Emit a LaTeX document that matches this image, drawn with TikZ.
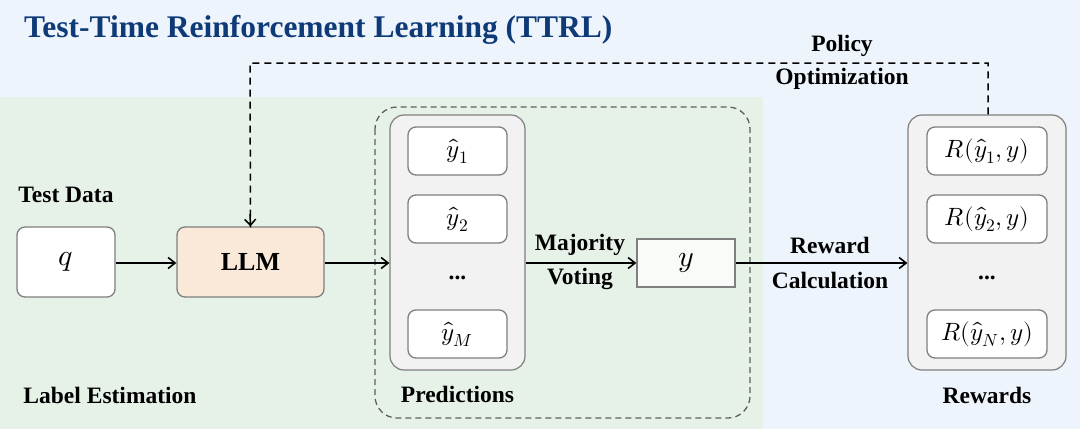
\documentclass[tikz,border=0pt]{standalone}
\usepackage{fontspec}
\usepackage{unicode-math}
\setmainfont{Liberation Serif}
\setmathfont{Latin Modern Math}
\usetikzlibrary{arrows.meta,positioning}
\definecolor{bgblue}{HTML}{EEF4FB}
\definecolor{bggreen}{HTML}{E6F2E8}
\definecolor{titleblue}{HTML}{0F3A78}
\definecolor{llmfill}{HTML}{FAE9D8}
\definecolor{greyfill}{HTML}{F2F2F2}
\definecolor{boxborder}{HTML}{7F7F7F}
\tikzset{
  lbl/.style={font=\fontsize{23.5}{26}\selectfont\bfseries, inner sep=0pt},
  whitebox/.style={draw=boxborder, line width=1.3pt, fill=white, rounded corners=8pt, inner sep=0pt},
  groupbox/.style={draw=boxborder, line width=1.2pt, fill=greyfill, rounded corners=14pt, inner sep=0pt},
  mathtxt/.style={font=\fontsize{25}{28}\selectfont},
  bigmath/.style={font=\fontsize{30}{32}\selectfont},
  conn/.style={line width=1.6pt, -{Straight Barb[length=7pt,width=11pt,line width=1.6pt]}},
  fb/.style={line width=1.5pt, dash pattern=on 7pt off 5pt},
}
\begin{document}
\begin{tikzpicture}[x=1pt,y=-1pt]
\useasboundingbox (0,0) rectangle (1080,429);
\fill[bgblue] (0,0) rectangle (1080,429);
\fill[bggreen] (0,97) rectangle (763,429);
\node[anchor=west, font=\fontsize{31.5}{36}\selectfont\bfseries, text=titleblue, inner sep=0pt] (title) at (24,30) {Test-Time Reinforcement Learning (TTRL)};

% dashed label estimation group
\draw[draw=boxborder!75!black, line width=1.3pt, dash pattern=on 6pt off 4pt, rounded corners=22pt] (375,107) rectangle (750,418);

% predictions group
\node[groupbox, minimum width=135pt, minimum height=255pt] (pred) at (457.5,242.5) {};
\node[whitebox, minimum width=99pt, minimum height=48pt, mathtxt] (p1) at (457.5,151) {$\hat{y}_1$};
\node[whitebox, minimum width=99pt, minimum height=48pt, mathtxt] (p2) at (457.5,219) {$\hat{y}_2$};
\node[lbl] (pdots) at (457.5,278) {...};
\node[whitebox, minimum width=99pt, minimum height=48pt, mathtxt] (pM) at (457.5,334) {$\hat{y}_M$};
\node[lbl] (predlbl) at (457.5,394) {Predictions};

% q and LLM
\node[whitebox, minimum width=98pt, minimum height=70pt, bigmath] (q) at (66,262) {$q$};
\node[whitebox, fill=llmfill, minimum width=147pt, minimum height=70pt, font=\fontsize{26}{28}\selectfont\bfseries] (llm) at (250.5,262) {LLM};
\node[lbl] (testdata) at (66,195) {Test Data};
\node[lbl] (labest) at (110,395) {Label Estimation};

% majority answer
\node[draw=boxborder, line width=1.3pt, fill=white!70!bggreen, minimum width=98pt, minimum height=48pt, inner sep=0pt, bigmath] (y) at (686,263) {$y$};

% rewards group
\node[groupbox, minimum width=158pt, minimum height=255pt] (rew) at (987,242.5) {};
\node[whitebox, minimum width=120pt, minimum height=48pt, mathtxt] (r1) at (987,151) {$R(\hat{y}_1,y)$};
\node[whitebox, minimum width=120pt, minimum height=48pt, mathtxt] (r2) at (987,219) {$R(\hat{y}_2,y)$};
\node[lbl] (rdots) at (987,278) {...};
\node[whitebox, minimum width=120pt, minimum height=48pt, mathtxt] (rN) at (987,334) {$R(\hat{y}_N,y)$};
\node[lbl] (rewlbl) at (987,395) {Rewards};

% connectors
\draw[conn] (q.east |- 0,263) -- (llm.west |- 0,263);
\draw[conn] (llm.east |- 0,263) -- (pred.west |- 0,263);
\draw[conn] (pred.east |- 0,263) -- (y.west |- 0,263);
\draw[conn] (y.east |- 0,263) -- (rew.west |- 0,263);
\node[lbl] (maj) at (580,245) {Majority};
\node[lbl] (vot) at (580,279) {Voting};
\node[lbl] (rw) at (830,245) {Reward};
\node[lbl] (calc) at (830,280) {Calculation};

% feedback
\coordinate (fbR) at (988,63);
\coordinate (fbL) at (250,63);
\draw[fb] (rew.north -| fbR) -- (fbR) -- (fbL) -- ([yshift=-1pt]llm.north);
\draw[line width=1.5pt, -{Straight Barb[length=6pt,width=11pt,line width=1.5pt]}] (250,214) -- (llm.north);
\node[lbl] (pol) at (842,46) {Policy};
\node[lbl] (opt) at (842,79) {Optimization};
\end{tikzpicture}
\end{document}
